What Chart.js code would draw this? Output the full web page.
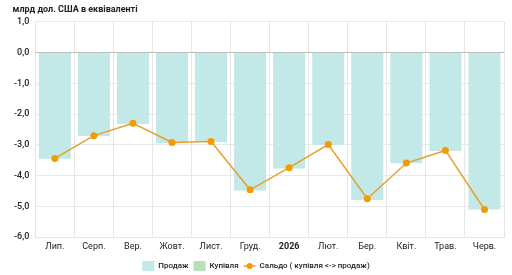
<!DOCTYPE html>
<html>
<head>
<meta charset="utf-8">
<script src="https://cdn.jsdelivr.net/npm/chart.js@4"></script>
<style>
  html, body { margin: 0; padding: 0; background: #fff; }
  #wrap { width: 512px; height: 275px; }
</style>
</head>
<body>
<div id="wrap"><canvas id="myChart"></canvas></div>
<script>
const months = ["Лип.", "Серп.", "Вер.", "Жовт.", "Лист.", "Груд.", "2026", "Лют.", "Бер.", "Квіт.", "Трав.", "Черв."];
const sales = [-3.45, -2.71, -2.32, -2.95, -2.91, -4.48, -3.77, -3.0, -4.79, -3.6, -3.2, -5.1];
const purchases = [0, 0, 0, 0, 0, 0, 0, 0, 0, 0, 0, 0];
const saldo = [-3.44, -2.7, -2.3, -2.92, -2.89, -4.46, -3.74, -2.99, -4.75, -3.59, -3.18, -5.1];
const yTicks = [1, 0, -1, -2, -3, -4, -5, -6];

const FONT = "Roboto, 'Noto Sans', sans-serif";
const LINE_COLOR = '#e6a030';
const DOT_COLOR = '#f59b00';

// draws the "line with dot" marker for the saldo legend entry
const legendLineMarker = {
    id: 'legendLineMarker',
    afterDraw(chart){
        const legend = chart.legend;
        if(!legend || !legend.legendHitBoxes) return;
        const idx = legend.legendItems.findIndex(it => it.datasetIndex === 2);
        const box = legend.legendHitBoxes[idx];
        if(!box) return;
        const ctx = chart.ctx;
        const cy = box.top + box.height / 2;
        const x0 = box.left, x1 = box.left + 12;
        ctx.save();
        ctx.strokeStyle = LINE_COLOR;
        ctx.lineWidth = 1.5;
        ctx.beginPath();
        ctx.moveTo(x0, cy);
        ctx.lineTo(x1, cy);
        ctx.stroke();
        ctx.fillStyle = DOT_COLOR;
        ctx.beginPath();
        ctx.arc((x0 + x1) / 2, cy, 3, 0, Math.PI * 2);
        ctx.fill();
        ctx.restore();
    }
};

const CTX = document.getElementById('myChart').getContext('2d');
const CONFIG = {
    type: 'bar',
    data: {
        labels: months,
        datasets: [{
            label: "Продаж",
            data: sales,
            backgroundColor: '#c2e8e8',
            borderWidth: 0,
            stack: 'fx',
            order: 1
        }, {
            label: "Купівля",
            data: purchases,
            backgroundColor: '#b8e0b8',
            borderWidth: 0,
            stack: 'fx',
            order: 1
        }, {
            type: 'line',
            label: "Сальдо ( купівля <-> продаж)",
            data: saldo,
            borderColor: LINE_COLOR,
            backgroundColor: 'rgba(0,0,0,0)',
            borderWidth: 1.5,
            pointRadius: 3.5,
            pointBackgroundColor: DOT_COLOR,
            pointBorderColor: DOT_COLOR,
            pointBorderWidth: 0,
            tension: 0,
            stack: 'saldo',
            order: 0
        }]
    },
    options: {
        responsive: true,
        maintainAspectRatio: false,
        animation: false,
        layout: { padding: { left: 8, right: 8, top: 4, bottom: -6 } },
        datasets: {
            bar: { categoryPercentage: 1, barPercentage: 0.82 }
        },
        scales: {
            x: {
                stacked: true,
                grid: { color: '#e6e6e6', offset: true, drawTicks: false },
                border: { color: '#e6e6e6' },
                ticks: {
                    color: '#222',
                    padding: 4,
                    font: (c) => ({ family: FONT, size: 9, weight: (c.tick && c.tick.label === '2026') ? 'bold' : 'normal' })
                }
            },
            y: {
                stacked: true,
                min: -6,
                max: 1,
                afterBuildTicks: (axis) => { axis.ticks = yTicks.map(v => ({ value: v })); },
                grid: {
                    color: (c) => (c.tick && c.tick.value === 0) ? '#bdbdbd' : '#e8e8e8',
                    drawTicks: false
                },
                border: { display: false },
                ticks: {
                    color: '#222',
                    padding: 6,
                    font: { family: FONT, size: 9, weight: 500 },
                    callback: (v) => v.toFixed(1).replace('.', ',')
                }
            }
        },
        plugins: {
            title: {
                display: true,
                text: '\u2002млрд дол. США в еквіваленті',
                align: 'start',
                color: '#222',
                font: { family: FONT, size: 9, weight: 'bold' },
                padding: { top: 0, bottom: 7 }
            },
            legend: {
                position: 'bottom',
                labels: {
                    boxWidth: 12,
                    boxHeight: 10,
                    color: '#222',
                    padding: 5,
                    font: { family: FONT, size: 8, weight: 500 },
                    sort: (a, b) => a.datasetIndex - b.datasetIndex,
                    generateLabels: (chart) => {
                        const items = Chart.defaults.plugins.legend.labels.generateLabels(chart);
                        items.forEach(it => {
                            it.lineWidth = 0;
                            if(it.datasetIndex === 2){
                                it.fillStyle = 'rgba(0,0,0,0)';
                                it.strokeStyle = 'rgba(0,0,0,0)';
                            }
                        });
                        return items;
                    }
                }
            },
            tooltip: { enabled: false }
        }
    },
    plugins: [legendLineMarker]
};

const myChart = new Chart(CTX, CONFIG);
</script>
</body>
</html>
